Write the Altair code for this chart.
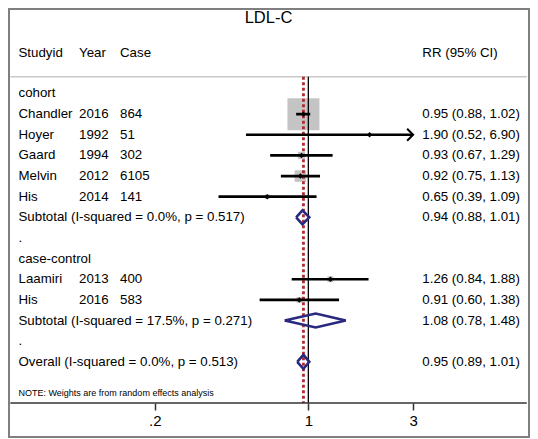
import altair as alt
import pandas as pd

# ---------------- data ----------------
study = ["Chandler", "Hoyer", "Gaard", "Melvin", "His", "Laamiri", "His"]
year = [2016, 1992, 1994, 2012, 2014, 2013, 2016]
cases = [864, 51, 302, 6105, 141, 400, 583]
design = ["cohort", "cohort", "cohort", "cohort", "cohort", "case-control", "case-control"]
rr = [0.95, 1.90, 0.93, 0.92, 0.65, 1.26, 0.91]
ci_lo = [0.88, 0.52, 0.67, 0.75, 0.39, 0.84, 0.60]
ci_hi = [1.02, 6.90, 1.29, 1.13, 1.09, 1.88, 1.38]
weight = [78.8, 0.3, 4.0, 10.2, 1.6, 2.7, 2.5]   # % weight (box area)

groups = ["cohort", "case-control"]
sub_rr = [0.94, 1.08]
sub_lo = [0.88, 0.78]
sub_hi = [1.01, 1.48]
sub_i2 = ["0.0%", "17.5%"]
sub_p = ["0.517", "0.271"]

overall_rr, overall_lo, overall_hi = 0.95, 0.89, 1.01
overall_i2, overall_p = "0.0%", "0.513"

tick_values = [0.2, 1, 3]
tick_labels = [".2", "1", "3"]
clip_max = 3  # CI lines beyond this are drawn as arrows

title_text = "LDL-C"
headers = ["Studyid", "Year", "Case", "RR (95% CI)"]
note_text = "NOTE: Weights are from random effects analysis"

# ---------------- build tables ----------------
def fmt(e, l, h):
    return f"{e:.2f} ({l:.2f}, {h:.2f})"

text_rows, study_rows, diamond_rows = [], [], []
row = 0
H = 0.339  # diamond half height, in rows
did = 0

def add_diamond(r, e, l, h):
    global did
    pts = [(l, r), (e, r - H), (h, r), (e, r + H), (l, r)]
    for k, (xv, yv) in enumerate(pts):
        diamond_rows.append({"id": did, "k": k, "x": xv, "yd": yv})
    did += 1

for gi, g in enumerate(groups):
    text_rows.append({"row": row, "label": g, "year": "", "case": "", "rrtext": ""})
    row += 1
    for i in range(len(study)):
        if design[i] != g:
            continue
        text_rows.append({"row": row, "label": study[i], "year": str(year[i]),
                          "case": str(cases[i]), "rrtext": fmt(rr[i], ci_lo[i], ci_hi[i])})
        study_rows.append({"row": row, "rr": rr[i], "lo": ci_lo[i],
                           "hi": min(ci_hi[i], clip_max), "arrow": ci_hi[i] > clip_max,
                           "weight": weight[i]})
        row += 1
    text_rows.append({"row": row,
                      "label": f"Subtotal (I-squared = {sub_i2[gi]}, p = {sub_p[gi]})",
                      "year": "", "case": "", "rrtext": fmt(sub_rr[gi], sub_lo[gi], sub_hi[gi])})
    add_diamond(row, sub_rr[gi], sub_lo[gi], sub_hi[gi])
    row += 1
    text_rows.append({"row": row, "label": ".", "year": "", "case": "", "rrtext": ""})
    row += 1

text_rows.append({"row": row, "label": f"Overall (I-squared = {overall_i2}, p = {overall_p})",
                  "year": "", "case": "", "rrtext": fmt(overall_rr, overall_lo, overall_hi)})
add_diamond(row, overall_rr, overall_lo, overall_hi)

tdf = pd.DataFrame(text_rows)
sdf = pd.DataFrame(study_rows)
ddf = pd.DataFrame(diamond_rows)
refdf = pd.DataFrame({"null": [1.0], "overall": [overall_rr]})
one = pd.DataFrame({"k": [0]})

# ---------------- scales / axis ----------------
FONT = "Arial"
W, Hgt = 522, 395
xscale = alt.Scale(type="log", domain=[0.04291, 10.215], nice=False)
yscale = alt.Scale(domain=[-4.142, 14.995], reverse=True, nice=False, zero=False)

label_expr = f"'{tick_labels[-1]}'"
for v, l in reversed(list(zip(tick_values[:-1], tick_labels[:-1]))):
    label_expr = f"abs(datum.value - {v}) < 1e-6 ? '{l}' : " + label_expr

xaxis = alt.Axis(values=tick_values, labelExpr=label_expr, title=None, domain=False,
                 grid=False, tickSize=7, tickWidth=1.5, tickColor="#333333",
                 labelFont=FONT, labelFontSize=15, labelColor="black", labelPadding=3)

Y = lambda f: alt.Y(f, scale=yscale, axis=None)
X = lambda f: alt.X(f, scale=xscale, axis=xaxis)

# ---------------- layers ----------------
frame = alt.Chart(one).mark_rect(filled=False, stroke="#7f7f7f", strokeWidth=2).encode(
    x=alt.value(1), x2=alt.value(521), y=alt.value(1), y2=alt.value(429))

sep = alt.Chart(one).mark_rule(color="#c8c8c8", strokeWidth=1.6).encode(
    x=alt.value(2.3), x2=alt.value(518.8), y=alt.value(68.7))

axis_line = alt.Chart(one).mark_rule(color="#333333", strokeWidth=1.5).encode(
    x=alt.value(2.3), x2=alt.value(518.8), y=alt.value(395))

null_line = alt.Chart(refdf).mark_rule(color="black", strokeWidth=1.3).encode(
    x=X("null:Q"), y=alt.value(68.7), y2=alt.value(395))

overall_line = alt.Chart(refdf).mark_rule(color="#b02a30", strokeWidth=2.8,
                                          strokeDash=[3, 2.5]).encode(
    x=X("overall:Q"), y=alt.value(68.7), y2=alt.value(395))

boxes = alt.Chart(sdf).mark_square(color="#c4c4c4", opacity=1).encode(
    x=X("rr:Q"), y=Y("row:Q"),
    size=alt.Size("weight:Q", scale=alt.Scale(domain=[0, 100], range=[0, 1300]), legend=None))

ci = alt.Chart(sdf).mark_rule(color="black", strokeWidth=2.7).encode(
    x=X("lo:Q"), x2="hi:Q", y=Y("row:Q"))

arrows = alt.Chart(sdf).transform_filter("datum.arrow").mark_point(
    shape="M -1 -1 L 0 0 L -1 1", filled=False, size=144, strokeWidth=2,
    color="black", opacity=1).encode(x=X("hi:Q"), y=Y("row:Q"))

points = alt.Chart(sdf).mark_point(shape="diamond", filled=True, size=30,
                                   color="black", opacity=1).encode(
    x=X("rr:Q"), y=Y("row:Q"))

diamonds = alt.Chart(ddf).mark_line(color="#28297f", strokeWidth=2.6,
                                    strokeJoin="miter").encode(
    x=X("x:Q"), y=Y("yd:Q"), detail="id:N", order="k:O")

def col_text(field, xpos):
    return alt.Chart(tdf).mark_text(align="left", baseline="middle", font=FONT,
                                    fontSize=13.3, color="black").encode(
        x=alt.value(xpos), y=Y("row:Q"), text=f"{field}:N")

labels = col_text("label", 10.5)
years = col_text("year", 71)
casecol = col_text("case", 112)
rrcol = col_text("rrtext", 414.3)

header_x = [10.5, 71, 112, 414.3]
header_layers = [
    alt.Chart(one).mark_text(align="left", baseline="middle", font=FONT, fontSize=13.3,
                             color="black", text=h).encode(x=alt.value(hx), y=alt.value(44.5))
    for h, hx in zip(headers, header_x)
]

title = alt.Chart(one).mark_text(align="center", baseline="middle", font=FONT,
                                 fontSize=16.5, color="black", text=title_text).encode(
    x=alt.value(260.5), y=alt.value(9.7))

note = alt.Chart(one).mark_text(align="left", baseline="middle", font=FONT,
                                fontSize=9, color="black", text=note_text).encode(
    x=alt.value(10.5), y=alt.value(385.3))

chart = alt.layer(
    frame, sep, boxes, null_line, overall_line, ci, arrows, points, diamonds,
    axis_line, labels, years, casecol, rrcol, *header_layers, title, note
).properties(width=W, height=Hgt, padding=0).configure_view(stroke=None)

chart.save("out.html", embed_options={"renderer": "svg", "actions": False})
